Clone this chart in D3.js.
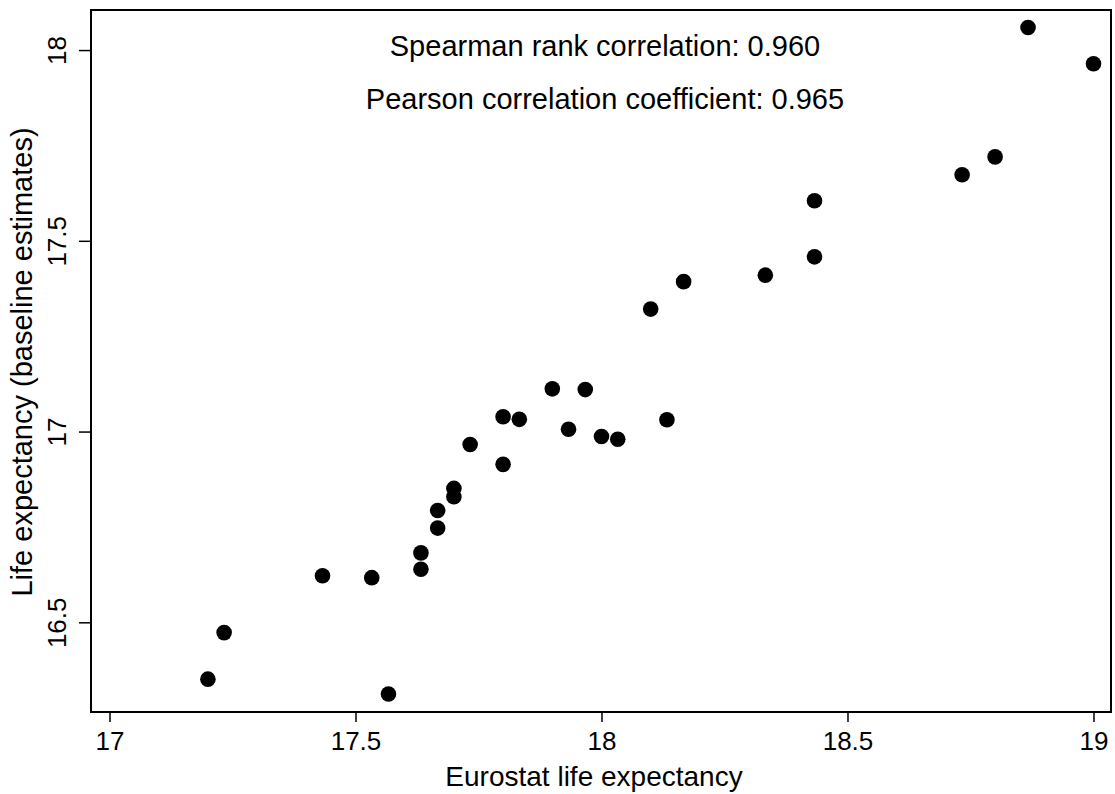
<!DOCTYPE html>
<html>
<head>
<meta charset="utf-8">
<script src="https://cdn.jsdelivr.net/npm/d3@7"></script>
<style>
  html, body { margin: 0; padding: 0; background: #fff; }
  svg { display: block; }
  text { font-family: "Liberation Sans", Arial, Helvetica, sans-serif; fill: #000; }
</style>
</head>
<body>
<svg id="chart" width="1115" height="794"></svg>
<script>
// Eurostat life expectancy vs. baseline model estimates
const eurostat = [17.200, 17.233, 17.433, 17.533, 17.567, 17.633, 17.633, 17.667, 17.667, 17.700,
                  17.700, 17.733, 17.800, 17.800, 17.833, 17.900, 17.933, 17.967, 18.000, 18.033,
                  18.100, 18.133, 18.167, 18.333, 18.433, 18.433, 18.733, 18.800, 18.867, 19.000];
const baseline = [16.351, 16.473, 16.622, 16.617, 16.312, 16.682, 16.639, 16.793, 16.747, 16.851,
                  16.829, 16.966, 17.039, 16.914, 17.032, 17.112, 17.006, 17.110, 16.987, 16.980,
                  17.321, 17.031, 17.393, 17.410, 17.605, 17.458, 17.673, 17.720, 18.059, 17.964];
const xTicks = [17, 17.5, 18, 18.5, 19];
const yTicks = [16.5, 17, 17.5, 18];
const annotations = ["Spearman rank correlation: 0.960", "Pearson correlation coefficient: 0.965"];
const xTitle = "Eurostat life expectancy";
const yTitle = "Life expectancy (baseline estimates)";

const svg = d3.select("#chart");
const plot = { left: 91, right: 1111, top: 10, bottom: 712 };

const x = d3.scaleLinear().domain([16.9624, 19.0356]).range([plot.left, plot.right]);
const y = d3.scaleLinear().domain([16.2649, 18.105]).range([plot.bottom, plot.top]);

const fmt = d => String(d);

// x axis
const xAxis = svg.append("g")
  .attr("transform", `translate(0,${plot.bottom})`)
  .call(d3.axisBottom(x).tickValues(xTicks).tickFormat(fmt).tickSize(10).tickPadding(10));
xAxis.select(".domain").remove();
xAxis.selectAll(".tick line").attr("stroke", "#000").attr("stroke-width", 1.5);
xAxis.selectAll(".tick text").attr("font-size", 26).attr("font-family", "Liberation Sans, Arial, sans-serif");

// y axis with rotated labels
const yAxis = svg.append("g")
  .attr("transform", `translate(${plot.left},0)`)
  .call(d3.axisLeft(y).tickValues(yTicks).tickFormat(fmt).tickSize(12));
yAxis.select(".domain").remove();
yAxis.selectAll(".tick line").attr("stroke", "#000").attr("stroke-width", 1.5);
yAxis.selectAll(".tick text")
  .attr("font-size", 26)
  .attr("font-family", "Liberation Sans, Arial, sans-serif")
  .attr("x", null).attr("dy", null)
  .attr("text-anchor", "middle")
  .attr("transform", "translate(-25,0) rotate(-90)");

// plot frame
svg.append("rect")
  .attr("x", plot.left).attr("y", plot.top)
  .attr("width", plot.right - plot.left).attr("height", plot.bottom - plot.top)
  .attr("fill", "none").attr("stroke", "#000").attr("stroke-width", 2);

// points
svg.append("g").selectAll("circle")
  .data(eurostat.map((v, i) => [v, baseline[i]]))
  .join("circle")
  .attr("cx", d => x(d[0]))
  .attr("cy", d => y(d[1]))
  .attr("r", 7.8)
  .attr("fill", "#000");

// correlation annotations
svg.append("g").selectAll("text")
  .data(annotations)
  .join("text")
  .attr("x", 605)
  .attr("y", (d, i) => 56 + i * 53)
  .attr("text-anchor", "middle")
  .attr("font-size", 29)
  .text(d => d);

// axis titles
svg.append("text")
  .attr("x", 594).attr("y", 786)
  .attr("text-anchor", "middle")
  .attr("font-size", 28)
  .text(xTitle);

svg.append("text")
  .attr("transform", "translate(32,362) rotate(-90)")
  .attr("text-anchor", "middle")
  .attr("font-size", 29)
  .text(yTitle);
</script>
</body>
</html>
